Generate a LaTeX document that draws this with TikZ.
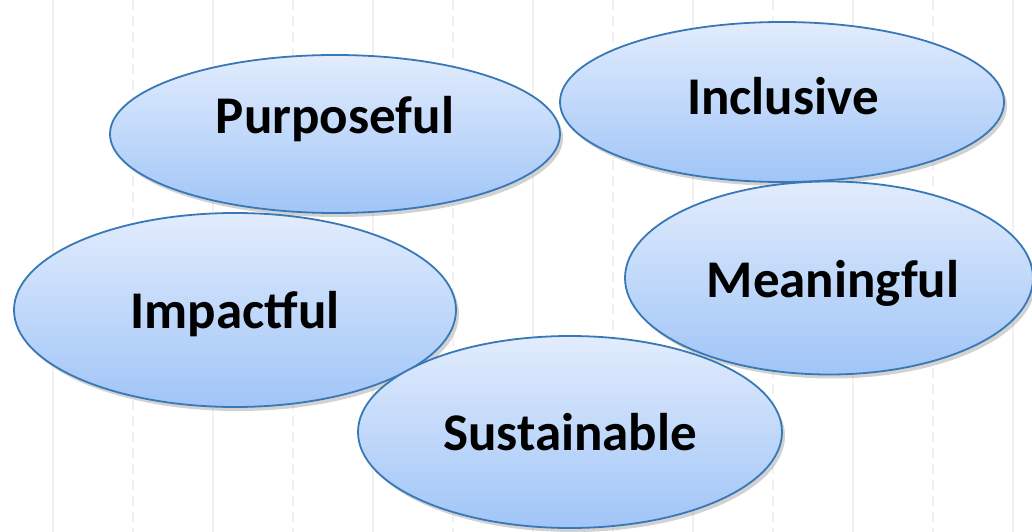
\documentclass[tikz,border=0pt]{standalone}
\usepackage{fontspec}
\setmainfont{Carlito}
\usetikzlibrary{shapes.geometric,shadows}

\definecolor{blobtop}{RGB}{226,236,253}
\definecolor{blobbottom}{RGB}{160,197,247}
\definecolor{blobedge}{RGB}{56,120,182}
\definecolor{gridgrey}{RGB}{241,241,241}

\tikzset{
  blob/.style={ellipse, draw=blobedge, line width=1.8pt, inner sep=0pt,
    top color=blobtop, bottom color=blobbottom,
    drop shadow={opacity=0.35, shadow xshift=3pt, shadow yshift=-4pt}},
  word/.style={anchor=base, inner sep=0pt, font=\fontsize{53}{60}\selectfont\bfseries},
  gridline/.style={draw=gridgrey, line width=1.5pt}
}

\begin{document}
\begin{tikzpicture}[x=1pt, y=-1pt]
		\useasboundingbox (0, 0) rectangle (1032, 532);
		\fill[white] (0, 0) rectangle (1032, 532);
		% faint page grid
		\foreach \k in {0, 2, ..., 12}
			\draw[gridline] (53 + 80*\k, 0) -- (53 + 80*\k, 532);
		\foreach \k in {1, 3, ..., 11}
			\draw[gridline, dash pattern=on 10pt off 6pt] (53 + 80*\k, 0) -- (53 + 80*\k, 532);
		% the five ellipses
		\node[blob, minimum width=450, minimum height=158] (purposeful) at (335, 134) {};
		\node[word] (purposefultxt) at (335, 133) {Purposeful};
		\node[blob, minimum width=444, minimum height=160] (inclusive) at (782, 102) {};
		\node[word] (inclusivetxt) at (783, 114) {Inclusive};
		\node[blob, minimum width=442, minimum height=194] (impactful) at (235, 310) {};
		\node[word] (impactfultxt) at (235, 328) {Impactful};
		\node[blob, minimum width=408, minimum height=193] (meaningful) at (829, 278) {};
		\node[word] (meaningfultxt) at (833, 297) {Meaningful};
		\node[blob, minimum width=424, minimum height=192] (sustainable) at (570, 432) {};
		\node[word] (sustainabletxt) at (570, 450) {Sustainable};
		\end{tikzpicture}
\end{document}
